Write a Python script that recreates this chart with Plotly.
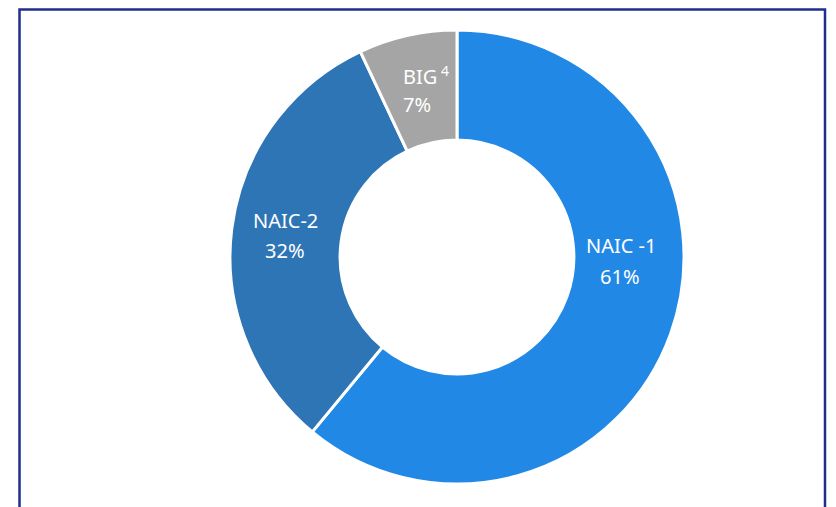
import plotly.graph_objects as go

W, H = 836, 507
OFF = 8  # page body margin offset in the browser

categories = ["NAIC -1", "NAIC-2", "BIG<sup> 4</sup>"]
values = [61, 32, 7]
colors = ["#2189E5", "#2E75B6", "#A5A5A5"]
pct_labels = ["61%", "32%", "7%"]


def px(x):
    return (x - OFF) / W


def py(y):
    return 1 - (y - OFF) / H


fig = go.Figure(go.Pie(
    labels=categories,
    values=values,
    sort=False,
    direction="clockwise",
    rotation=0,
    hole=0.515,
    marker=dict(colors=colors, line=dict(color="white", width=3)),
    textinfo="none",
    hoverinfo="label+percent",
    showlegend=False,
    domain=dict(x=[px(230), px(684)], y=[py(484), py(30)]),
))

font = dict(family="Noto Sans, Lato, sans-serif", size=20, color="white")

label_pos = [(621, 246, 276, "center"), (285, 221, 250, "center"), (401, 75, 105, "left")]
pct_x = [620, 285, 417]

annotations = []
for i, (cat, pct) in enumerate(zip(categories, pct_labels)):
    x, yl, yp, anc = label_pos[i]
    annotations.append(dict(x=px(x), y=py(yl), xref="paper", yref="paper",
                            text=cat, showarrow=False, font=font,
                            xanchor=anc, yanchor="middle"))
    annotations.append(dict(x=px(pct_x[i]), y=py(yp), xref="paper", yref="paper",
                            text=pct, showarrow=False, font=font,
                            xanchor="center", yanchor="middle"))

fig.update_layout(
    width=W, height=H,
    margin=dict(l=0, r=0, t=0, b=0),
    paper_bgcolor="white",
    plot_bgcolor="white",
    annotations=annotations,
    shapes=[dict(type="rect", xref="paper", yref="paper",
                 x0=px(19.5), x1=px(825), y0=-0.05, y1=py(9.5),
                 line=dict(color="#1F2E8A", width=2.5), fillcolor="rgba(0,0,0,0)")],
)

fig.write_html("out.html")
